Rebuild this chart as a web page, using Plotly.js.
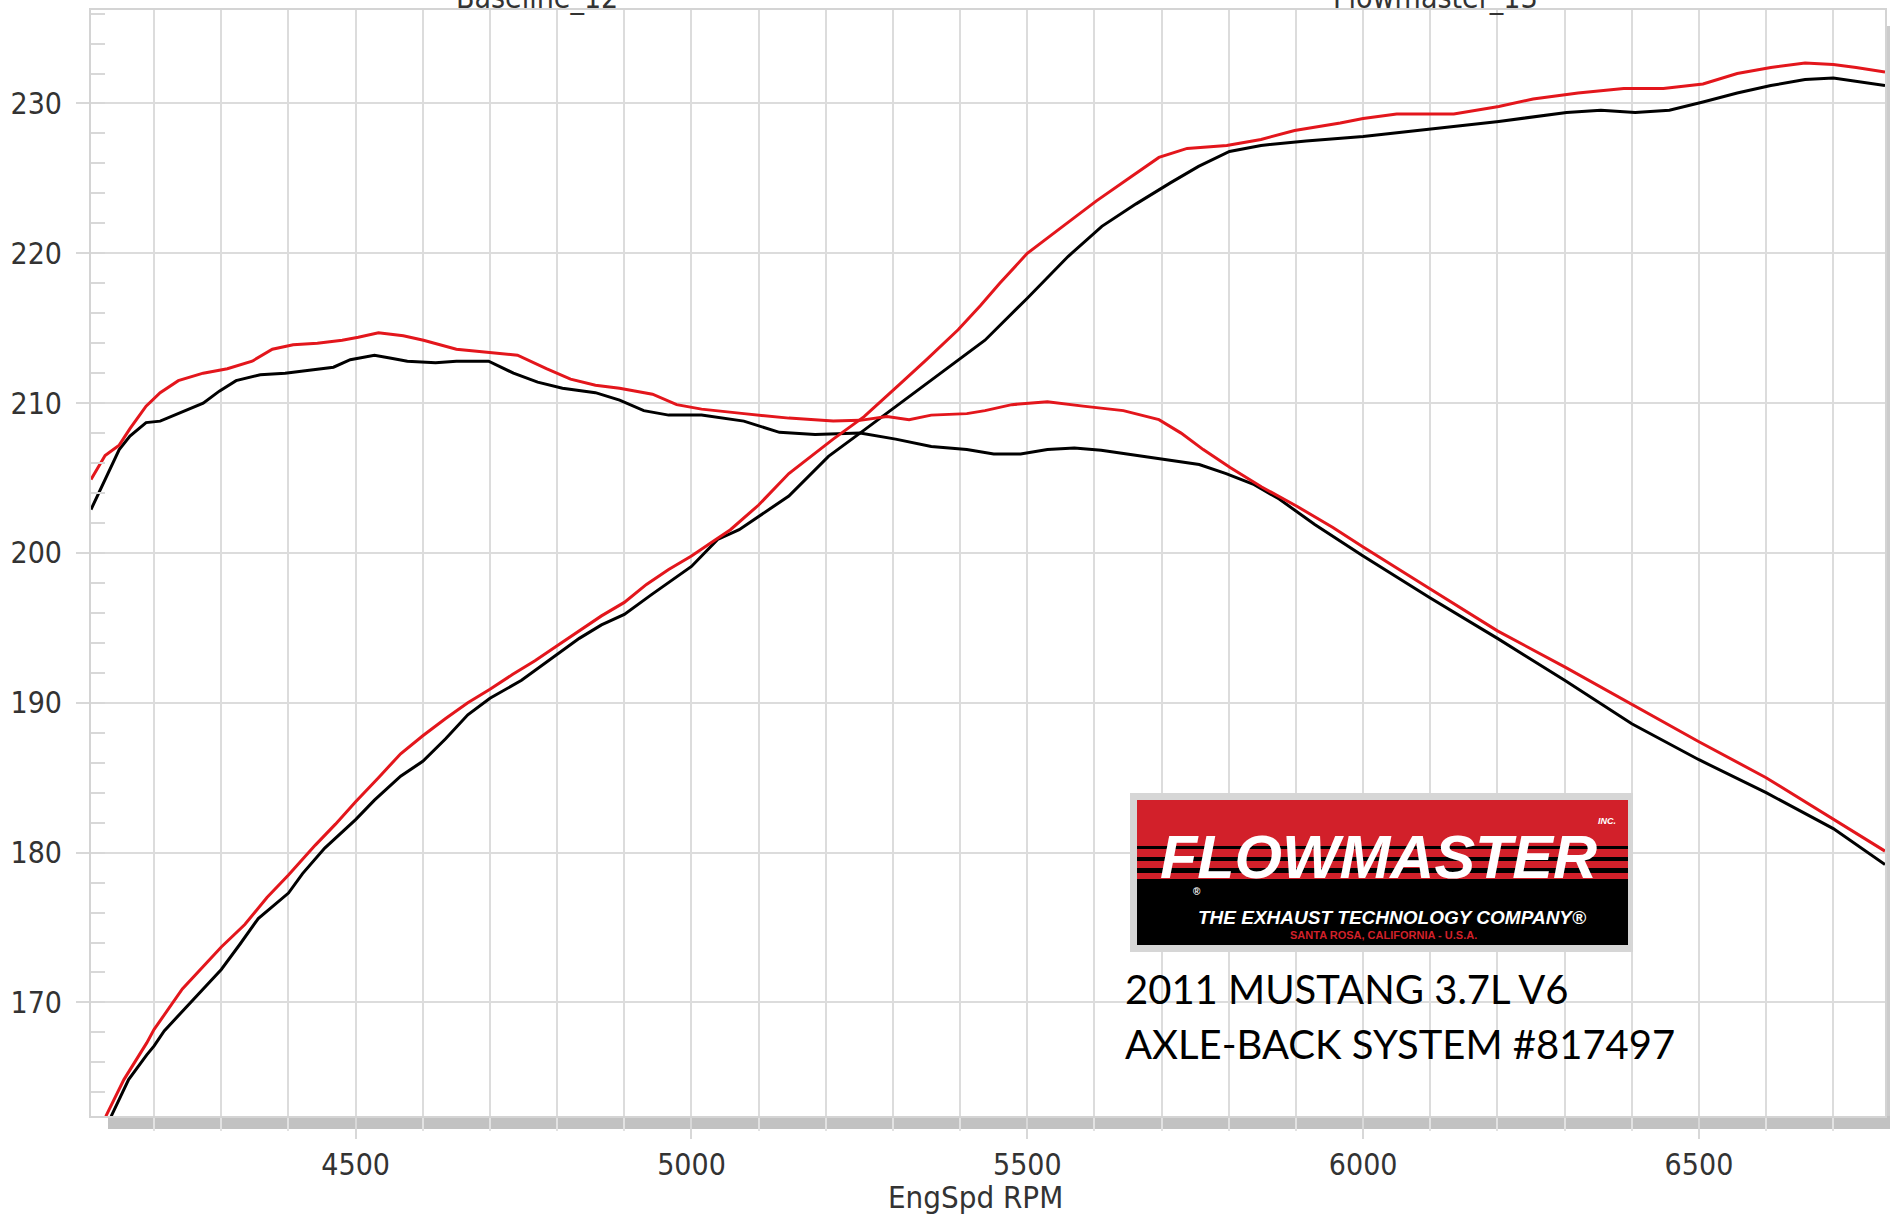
<!DOCTYPE html>
<html>
<head>
<meta charset="utf-8">
<script src="https://cdn.plot.ly/plotly-3.0.1.min.js"></script>
<style>
  html, body { margin: 0; padding: 0; background: #ffffff; }
  #chart { width: 1890px; height: 1214px; }
</style>
</head>
<body>
<div id="chart"></div>
<script>
// ---------------- DATA ----------------
const runNames = ["Baseline_12", "Flowmaster_13"];
const xTitle = "EngSpd RPM";

// Torque-like curve (peaks near 4550 rpm)
const tqBaseRpm = [4106,4127,4148,4164,4188,4209,4236,4273,4297,4322,4358,4395,4431,4467,4492,4528,4553,4577,4619,4650,4698,4735,4771,4808,4857,4893,4929,4966,5015,5051,5078,5131,5184,5251,5304,5357,5410,5450,5490,5530,5570,5610,5663,5703,5756,5796,5836,5875,5928,6000,6100,6200,6300,6400,6500,6600,6700,6777];
const tqBaseVal = [202.9,204.9,206.9,207.8,208.7,208.8,209.3,210.0,210.8,211.5,211.9,212.0,212.2,212.4,212.9,213.2,213.0,212.8,212.7,212.8,212.8,212.0,211.4,211.0,210.7,210.2,209.5,209.2,209.2,209.0,208.8,208.05,207.9,208.0,207.6,207.1,206.9,206.6,206.6,206.9,207.0,206.85,206.5,206.2,205.9,205.3,204.6,203.6,201.9,199.8,197.0,194.3,191.5,188.6,186.2,184.0,181.6,179.2];

const tqFlowRpm = [4106,4127,4148,4164,4188,4209,4236,4273,4309,4346,4376,4407,4443,4480,4504,4534,4571,4601,4650,4698,4741,4784,4820,4857,4893,4942,4978,5015,5051,5078,5145,5211,5251,5291,5324,5357,5410,5437,5477,5530,5583,5643,5696,5729,5762,5802,5849,5902,5955,6000,6100,6200,6300,6400,6500,6600,6700,6777];
const tqFlowVal = [204.9,206.5,207.2,208.3,209.8,210.7,211.5,212.0,212.3,212.8,213.6,213.9,214.0,214.2,214.4,214.7,214.5,214.2,213.6,213.4,213.2,212.3,211.6,211.2,211.0,210.6,209.9,209.6,209.4,209.3,209.0,208.8,208.85,209.1,208.9,209.2,209.3,209.5,209.9,210.1,209.8,209.5,208.9,208.0,206.9,205.7,204.4,203.1,201.7,200.4,197.6,194.8,192.4,189.9,187.4,185.0,182.2,180.1];

// Horsepower-like curve (rising to ~232)
const hpBaseRpm = [4136,4162,4189,4200,4215,4255,4300,4328,4355,4400,4421,4454,4500,4528,4567,4600,4634,4667,4700,4747,4800,4833,4866,4900,4940,4966,5000,5039,5071,5145,5204,5257,5311,5377,5437,5500,5561,5611,5662,5713,5755,5801,5848,5915,6000,6101,6202,6303,6354,6405,6456,6506,6557,6607,6658,6700,6742,6777];
const hpBaseVal = [162.4,164.85,166.5,167.1,168.1,170.0,172.2,173.9,175.6,177.3,178.6,180.3,182.2,183.5,185.1,186.1,187.6,189.2,190.3,191.5,193.2,194.3,195.2,195.9,197.2,198.0,199.1,200.9,201.55,203.8,206.45,208.2,210.0,212.2,214.2,217.0,219.8,221.8,223.3,224.7,225.8,226.8,227.2,227.5,227.8,228.3,228.8,229.4,229.55,229.4,229.55,230.1,230.7,231.2,231.6,231.7,231.4,231.2];

const hpFlowRpm = [4128,4155,4189,4200,4242,4275,4300,4335,4368,4400,4440,4470,4500,4534,4567,4600,4634,4667,4700,4734,4767,4800,4833,4866,4900,4933,4966,5000,5033,5058,5100,5145,5211,5257,5311,5350,5397,5430,5459,5500,5544,5603,5654,5696,5738,5797,5848,5898,5966,6000,6050,6135,6202,6253,6320,6388,6447,6506,6557,6607,6658,6700,6734,6777];
const hpFlowVal = [162.4,164.85,167.3,168.2,170.9,172.5,173.7,175.2,177.0,178.5,180.5,181.9,183.4,185.0,186.6,187.8,188.95,190.0,190.9,191.9,192.8,193.8,194.8,195.8,196.7,197.9,198.9,199.8,200.8,201.55,203.2,205.3,207.6,209.1,211.3,212.9,214.9,216.5,218.0,220.0,221.5,223.5,225.1,226.4,227.0,227.2,227.6,228.2,228.7,229.0,229.3,229.3,229.8,230.3,230.7,231.0,231.0,231.3,232.0,232.4,232.7,232.6,232.4,232.1];

const xTickVals = [4500, 5000, 5500, 6000, 6500];
const yTickVals = [170, 180, 190, 200, 210, 220, 230];

// Logo / caption texts
const logoMain = "FLOWMASTER";
const logoSub = "THE EXHAUST TECHNOLOGY COMPANY®";
const logoCity = "SANTA ROSA, CALIFORNIA - U.S.A.";
const logoInc = "INC.";
const logoReg = "®";
const caption1 = "2011 MUSTANG 3.7L V6";
const caption2 = "AXLE-BACK SYSTEM #817497";

// ---------------- LAYOUT HELPERS ----------------
const L = 91, T = 10, R = 1885, B = 1116;
const W = R - L, H = B - T;
const px = x => (x - L) / W;
const py = y => (B - y) / H;

const BLACK = "#000000";
const RED = "#e3161c";
const narrow = '"Liberation Sans Narrow", "DejaVu Sans Condensed", "Arial Narrow", "Liberation Sans", sans-serif';
const logoFont = '"Liberation Sans", Arial, sans-serif';

function line(x, y, color, name) {
  return { x: x, y: y, type: "scatter", mode: "lines", name: name,
           line: { color: color, width: 3, shape: "linear" }, hoverinfo: "skip" };
}

const traces = [
  line(tqBaseRpm, tqBaseVal, BLACK, runNames[0]),
  line(hpBaseRpm, hpBaseVal, BLACK, runNames[0]),
  line(tqFlowRpm, tqFlowVal, RED, runNames[1]),
  line(hpFlowRpm, hpFlowVal, RED, runNames[1])
];

function rect(x0, y0, x1, y1, fill, layer) {
  return { type: "rect", xref: "paper", yref: "paper",
           x0: px(x0), x1: px(x1), y0: py(y1), y1: py(y0),
           fillcolor: fill, line: { width: 0 }, layer: layer || "above" };
}

const shapes = [
  rect(108, 1116, 1890, 1129, "#c2c2c2", "below"),
  rect(1885, 26, 1890, 1116, "#cccccc", "below"),
  // logo
  rect(1130, 793, 1633, 952, "#d6d6d6"),
  rect(1137, 800, 1628, 945, "#d2202a"),
  rect(1137, 846, 1628, 849, "#000000"),
  rect(1137, 857, 1628, 861, "#000000"),
  rect(1137, 868, 1628, 873, "#000000"),
  rect(1137, 879, 1628, 945, "#000000")
];

function ann(text, x, y, opts) {
  return Object.assign({ text: text, xref: "paper", yref: "paper", x: px(x), y: py(y),
                         showarrow: false, xanchor: "center", yanchor: "middle" }, opts);
}

const annotations = [
  ann(runNames[0], 537, 10, { yanchor: "bottom", yshift: -7,
      font: { family: narrow, size: 30, color: "#333333" } }),
  ann(runNames[1], 1435, 10, { yanchor: "bottom", yshift: -7,
      font: { family: narrow, size: 30, color: "#333333" } }),
  ann(xTitle, 975, 1197, { font: { family: narrow, size: 31, color: "#333333" } }),
  // logo texts
  ann(logoMain, 1378, 857, { font: { family: logoFont, size: 61, color: "#ffffff", weight: 700, style: "italic" } }),
  ann(logoInc, 1607, 821, { font: { family: logoFont, size: 9, color: "#ffffff", weight: 700, style: "italic" } }),
  ann(logoReg, 1197, 891, { font: { family: logoFont, size: 10, color: "#ffffff", weight: 700 } }),
  ann(logoSub, 1392, 917, { font: { family: logoFont, size: 19, color: "#ffffff", weight: 700, style: "italic" } }),
  ann(logoCity, 1383, 935, { font: { family: logoFont, size: 11, color: "#d2202a", weight: 700 } }),
  // captions
  ann(caption1, 1123, 989, { xanchor: "left", font: { family: "Lato, 'Open Sans', sans-serif", size: 40, color: "#000000" } }),
  ann(caption2, 1123, 1044, { xanchor: "left", font: { family: "Lato, 'Open Sans', sans-serif", size: 40, color: "#000000" } })
];

const layout = {
  width: 1890, height: 1214,
  margin: { l: L, r: 1890 - R, t: T, b: 1214 - B, pad: 0 },
  paper_bgcolor: "#ffffff", plot_bgcolor: "#ffffff",
  showlegend: false,
  xaxis: {
    range: [4106, 6777], type: "linear",
    tickvals: xTickVals, ticktext: xTickVals.map(String),
    showgrid: true, gridcolor: "#dcdcdc", gridwidth: 2,
    minor: { dtick: 100, tick0: 4100, showgrid: true, gridcolor: "#dcdcdc", gridwidth: 2,
             ticks: "outside", ticklen: 13, tickcolor: "#e2e2e2", tickwidth: 2 },
    ticks: "outside", ticklen: 21, tickcolor: "#d8d8d8", tickwidth: 2,
    tickfont: { family: narrow, size: 30, color: "#333333" },
    showline: true, mirror: true, linecolor: "#d4d4d4", linewidth: 2,
    zeroline: false, fixedrange: true
  },
  yaxis: {
    range: [162.42, 236.24], type: "linear",
    tickvals: yTickVals, ticktext: yTickVals.map(String),
    showgrid: true, gridcolor: "#dcdcdc", gridwidth: 2,
    minor: { dtick: 2, tick0: 160, showgrid: false,
             ticks: "inside", ticklen: 14, tickcolor: "#d8d8d8", tickwidth: 2 },
    ticks: "outside", ticklen: 13, tickcolor: "#d8d8d8", tickwidth: 2,
    ticklabelstandoff: 8,
    tickfont: { family: narrow, size: 30, color: "#333333" },
    showline: true, mirror: true, linecolor: "#d4d4d4", linewidth: 2,
    zeroline: false, fixedrange: true
  },
  shapes: shapes,
  annotations: annotations
};

Plotly.newPlot("chart", traces, layout, { staticPlot: true, displayModeBar: false });
</script>
</body>
</html>
